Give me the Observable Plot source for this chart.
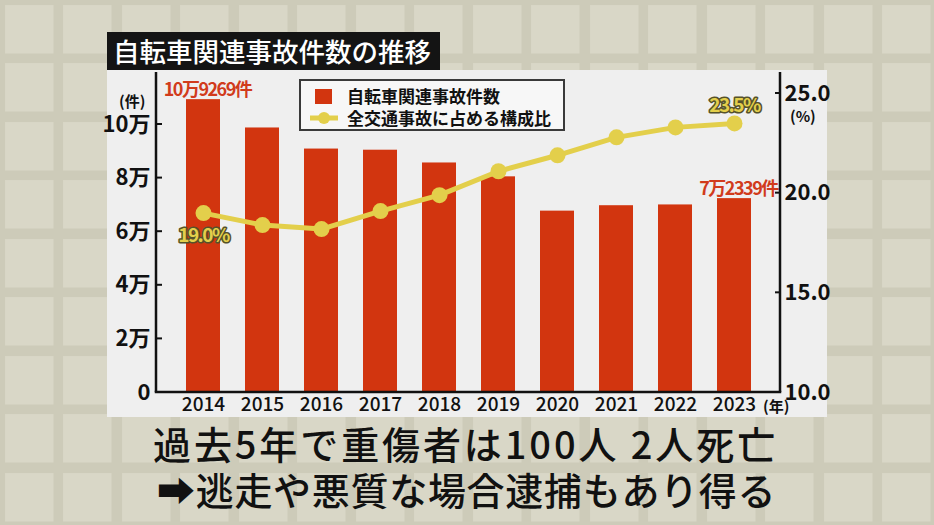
<!DOCTYPE html>
<html>
<head>
<meta charset="utf-8">
<script src="https://cdn.jsdelivr.net/npm/d3@7"></script>
<script src="https://cdn.jsdelivr.net/npm/@observablehq/plot@0.6"></script>
<style>
  html, body { margin: 0; padding: 0; }
  body {
    width: 934px; height: 525px; overflow: hidden; position: relative;
    font-family: "Noto Sans CJK JP", "Noto Sans", sans-serif;
    background-color: #cdcbb9;
    background-image: url("data:image/svg+xml,%3Csvg xmlns='http://www.w3.org/2000/svg' width='58.5' height='58.5'%3E%3Crect x='5' y='5' width='48' height='48' fill='%23d9d7c7'/%3E%3C/svg%3E");
    background-size: 58.5px 58.5px;
  }
  .abs { position: absolute; }
  #title {
    left: 107px; top: 32px; width: 333px; height: 38px; background: #141414; color: #fff;
    font-size: 26.5px; font-weight: 500; line-height: 38px; padding-left: 6px; box-sizing: border-box;
    white-space: nowrap;
  }
  #panel { left: 107px; top: 70px; width: 720px; height: 347px; background: #efefef; }
  #chart { left: 107px; top: 70px; width: 720px; height: 347px; }
  #chart svg { overflow: visible; }
  #legend {
    left: 299px; top: 79px; width: 266px; height: 52px; border: 2px solid #3a3a3a; background: #f7f7f7;
    box-sizing: border-box;
  }
  .leg { position: absolute; left: 46px; font-size: 17px; font-weight: bold; color: #111; line-height: 20px; white-space: nowrap; }
  .unit { font-weight: bold; color: #111; white-space: nowrap; line-height: 1; }
  .cap { font-size: 38px; font-weight: 500; color: #111; line-height: 1; white-space: nowrap; }
  g[aria-description="bar-label"] text, g[aria-description="share-label"] text { letter-spacing: -1.5px; }
</style>
</head>
<body>
<div id="panel" class="abs"></div>
<div id="chart" class="abs"></div>
<div id="title" class="abs">自転車関連事故件数の推移</div>
<div id="legend" class="abs">
  <svg width="46" height="50" style="position:absolute;left:0;top:0">
    <rect x="14" y="8" width="17" height="15" fill="#d2350f"></rect>
    <line x1="9" y1="37" x2="37" y2="37" stroke="#e3cf4b" stroke-width="5"></line>
    <circle cx="23" cy="37" r="6" fill="#e3cf4b"></circle>
  </svg>
  <div class="leg" style="top:5px">自転車関連事故件数</div>
  <div class="leg" style="top:27px">全交通事故に占める構成比</div>
</div>
<div class="abs unit" style="left:119px;top:93px;font-size:15px">(件)</div>
<div class="abs unit" style="left:790px;top:108px;font-size:15px">(%)</div>
<div class="abs unit" style="left:763px;top:398px;font-size:15px">(年)</div>
<div class="abs cap" style="left:153px;top:424px;letter-spacing:2.9px">過去5年で重傷者は100人 2人死亡</div>
<div class="abs cap" style="left:157px;top:470px;letter-spacing:0.7px">➡逃走や悪質な場合逮捕もあり得る</div>

<script>
// ---- data ----
const years = ["2014", "2015", "2016", "2017", "2018", "2019", "2020", "2021", "2022", "2023"];
const accidents = [109269, 98700, 90836, 90407, 85641, 80473, 67673, 69694, 69985, 72339];
const shares = [19.0, 18.4, 18.2, 19.1, 19.9, 21.1, 21.9, 22.8, 23.3, 23.5];

const countTicks = [0, 20000, 40000, 60000, 80000, 100000];
const countTickLabels = ["0", "2万", "4万", "6万", "8万", "10万"];
const shareTicks = [10, 15, 20, 25];
const shareTickLabels = ["10.0", "15.0", "20.0", "25.0"];

const barLabelYears = ["2014", "2023"];
const barLabelTexts = ["10万9269件", "7万2339件"];
const shareLabelYears = ["2014", "2023"];
const shareLabelTexts = ["19.0%", "23.5%"];

// ---- dual axis mapping (share % onto count scale) ----
const COUNT_MAX = 119400;       // top of left axis
const SHARE_MIN = 10, SHARE_REF = 25, COUNT_AT_SHARE_REF = 111567;
const shareToCount = p => (p - SHARE_MIN) / (SHARE_REF - SHARE_MIN) * COUNT_AT_SHARE_REF;

const rows = years.map((year, i) => ({year, count: accidents[i], share: shares[i]}));
const barLabels = barLabelYears.map((year, i) => ({year, count: accidents[years.indexOf(year)], text: barLabelTexts[i]}));
const shareLabels = shareLabelYears.map((year, i) => ({year, share: shares[years.indexOf(year)], text: shareLabelTexts[i]}));
const shareTickValues = shareTicks.map(shareToCount);

const RED = "#d2350f", YELLOW = "#e3cf4b";
const font = '"Noto Sans CJK JP", "Noto Sans", sans-serif';

const chart = Plot.plot({
  width: 720, height: 347,
  marginLeft: 49, marginRight: 47, marginTop: 2, marginBottom: 25,
  style: {background: "transparent", fontFamily: font, color: "#111", overflow: "visible"},
  x: {type: "band", domain: years, padding: 0.43, label: null},
  y: {domain: [0, COUNT_MAX], label: null},
  marks: [
    Plot.barY(rows, {x: "year", y: "count", fill: RED}),
    Plot.axisX({anchor: "bottom", tickSize: 0, tickPadding: 5, fontSize: 19, fontWeight: 500, label: null}),
    Plot.axisY(countTicks, {anchor: "left", tickSize: 0, tickPadding: 6, fontSize: 22, fontWeight: "bold", label: null,
      tickFormat: d => countTickLabels[countTicks.indexOf(d)]}),
    Plot.axisY(shareTickValues, {anchor: "right", tickSize: 0, tickPadding: 4, fontSize: 22, fontWeight: "bold", label: null,
      tickFormat: d => shareTickLabels[shareTickValues.indexOf(d)]}),
    Plot.line(rows, {x: "year", y: d => shareToCount(d.share), stroke: YELLOW, strokeWidth: 5}),
    Plot.dot(rows, {x: "year", y: d => shareToCount(d.share), r: 8, fill: YELLOW}),
    Plot.text(barLabels, {x: "year", y: "count", text: "text", dy: -4, dx: 4, lineAnchor: "bottom",
      fill: "#d13b1c", fontSize: 18, fontWeight: "bold", ariaDescription: "bar-label"}),
    Plot.text(shareLabels.slice(0, 1), {x: "year", y: d => shareToCount(d.share), text: "text", dy: 15, lineAnchor: "top",
      fill: YELLOW, stroke: "#55522a", strokeWidth: 3, fontSize: 19, fontWeight: "bold", ariaDescription: "share-label"}),
    Plot.text(shareLabels.slice(1), {x: "year", y: d => shareToCount(d.share), text: "text", dy: -11, lineAnchor: "bottom",
      fill: YELLOW, stroke: "#55522a", strokeWidth: 3, fontSize: 19, fontWeight: "bold", ariaDescription: "share-label"})
  ]
});
document.getElementById("chart").appendChild(chart);

// ---- axis lines and inward ticks, from the plot's own scales ----
const xs = chart.scale("x"), ys = chart.scale("y");
const [xl, xr] = xs.range;
const [yb, yt] = ys.range;
const svg = d3.select(chart);
const g = svg.append("g").attr("stroke", "#111").attr("fill", "none");
g.append("line").attr("x1", xl).attr("x2", xl).attr("y1", yt).attr("y2", yb).attr("stroke-width", 2.5);
g.append("line").attr("x1", xr).attr("x2", xr).attr("y1", yt).attr("y2", yb).attr("stroke-width", 2.5);
g.append("line").attr("x1", xl - 1.25).attr("x2", xr + 1.25).attr("y1", yb).attr("y2", yb).attr("stroke-width", 2.5);
countTicks.slice(1).forEach(v => {
  const y = ys.apply(v);
  g.append("line").attr("x1", xl).attr("x2", xl + 6).attr("y1", y).attr("y2", y).attr("stroke-width", 2);
});
shareTickValues.slice(1).forEach(v => {
  const y = ys.apply(v);
  g.append("line").attr("x1", xr - 5).attr("x2", xr).attr("y1", y).attr("y2", y).attr("stroke-width", 2);
});
</script>
</body>
</html>
